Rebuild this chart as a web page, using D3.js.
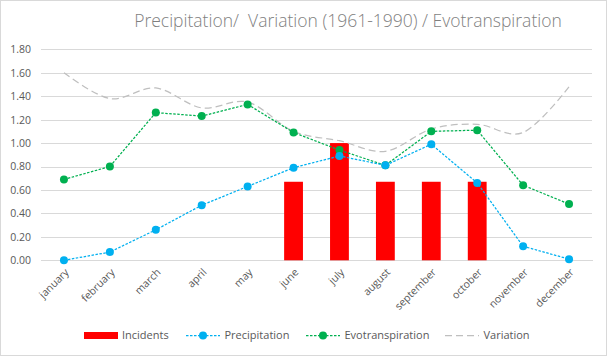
<!DOCTYPE html>
<html><head><meta charset="utf-8">
<script src="https://cdn.jsdelivr.net/npm/d3@7"></script>
<style>
body{margin:0;background:#fff;}
svg text{font-family:"Open Sans","Noto Sans",sans-serif;fill:#595959;}
</style></head>
<body><svg id="c" width="607" height="356"></svg>
<script>
const months = ["january","february","march","april","may","june","july","august","september","october","november","december"];
const incidents = [null,null,null,null,null,0.67,1.00,0.67,0.67,0.67,null,null];
const precipitation = [0.00,0.07,0.26,0.47,0.63,0.79,0.89,0.81,0.99,0.66,0.12,0.01];
const evotranspiration = [0.69,0.80,1.26,1.23,1.33,1.09,0.94,0.81,1.10,1.11,0.64,0.48];
const variation = [1.60,1.38,1.47,1.30,1.35,1.10,1.02,0.93,1.12,1.16,1.09,1.48];
const yTicks = [0,0.2,0.4,0.6,0.8,1.0,1.2,1.4,1.6,1.8];
const title = "Precipitation/  Variation (1961-1990) / Evotranspiration";

const svg = d3.select("#c");
svg.append("rect").attr("x",0.5).attr("y",0.5).attr("width",606).attr("height",355)
  .attr("fill","#fff").attr("stroke","#d9d9d9");

const L=41, R=592, T=49.3, B=260.3;
const x = d3.scaleBand().domain(months).range([L,R]).paddingInner(0.59).paddingOuter(0.295);
const cx = m => x(m)+x.bandwidth()/2;
const y = d3.scaleLinear().domain([0,1.8]).range([B,T]);

svg.append("text").attr("x",348).attr("y",27).attr("text-anchor","middle")
  .style("white-space","pre").attr("xml:space","preserve")
  .style("font-size","17.5px").style("font-weight","300").style("fill","#7f7f7f").text(title);

// grid
const yAxis = d3.axisLeft(y).tickValues(yTicks).tickFormat(d3.format(".2f")).tickSize(-(R-L)).tickPadding(10);
const gy = svg.append("g").attr("transform",`translate(${L},0)`).call(yAxis);
gy.select(".domain").remove();
gy.selectAll("line").attr("stroke","#d9d9d9").attr("shape-rendering","crispEdges");
gy.selectAll("text").style("font-size","10.5px").style("fill","#595959");

const xAxis = d3.axisBottom(x).tickSize(0).tickPadding(0);
const gx = svg.append("g").attr("transform",`translate(0,${B})`).call(xAxis);
gx.select(".domain").attr("stroke","#d9d9d9").attr("shape-rendering","crispEdges");
gx.selectAll("text").attr("text-anchor","end").attr("dy","0.35em")
  .attr("transform","translate(3,10) rotate(-45)")
  .style("font-size","10.5px").style("fill","#595959");

// bars
svg.append("g").selectAll("rect").data(months.map((m,i)=>({m,v:incidents[i]})).filter(d=>d.v!=null))
  .join("rect").attr("x",d=>x(d.m)).attr("width",x.bandwidth())
  .attr("y",d=>y(d.v)).attr("height",d=>B-y(d.v)).attr("fill","#ff0000");

// variation
const smooth = d3.line().x((d,i)=>cx(months[i])).y(d=>y(d)).curve(d3.curveCardinal.tension(0));
svg.append("path").datum(variation).attr("d",smooth).attr("fill","none")
  .attr("stroke","#bfbfbf").attr("stroke-width",1.25).attr("stroke-dasharray","7,4");

const straight = d3.line().x((d,i)=>cx(months[i])).y(d=>y(d));
function series(vals,color){
  svg.append("path").datum(vals).attr("d",straight).attr("fill","none")
    .attr("stroke",color).attr("stroke-width",1.25).attr("stroke-dasharray","2.5,1.5");
  svg.append("g").selectAll("circle").data(vals).join("circle")
    .attr("cx",(d,i)=>cx(months[i])).attr("cy",d=>y(d)).attr("r",4).attr("fill",color);
}
series(evotranspiration,"#00b050");
series(precipitation,"#00b0f0");

// legend
const ly=335.5;
const lg = svg.append("g");
lg.append("rect").attr("x",84).attr("y",ly-3.5).attr("width",34).attr("height",7).attr("fill","#ff0000");
lg.append("text").attr("x",122).attr("y",ly).attr("dy","0.35em").style("font-size","11px").text("Incidents");
function legLine(x0,color,label,tx,marker,dash){
  lg.append("line").attr("x1",x0).attr("x2",x0+34).attr("y1",ly).attr("y2",ly)
    .attr("stroke",color).attr("stroke-width",1.25).attr("stroke-dasharray",dash);
  if(marker) lg.append("circle").attr("cx",x0+17).attr("cy",ly).attr("r",4).attr("fill",color);
  lg.append("text").attr("x",tx).attr("y",ly).attr("dy","0.35em").style("font-size","11px").text(label);
}
legLine(186,"#00b0f0","Precipitation",224.5,true,"2.5,1.5");
legLine(306,"#00b050","Evotranspiration",344.5,true,"2.5,1.5");
legLine(445,"#bfbfbf","Variation",483.5,false,"7,4");
</script></body></html>
